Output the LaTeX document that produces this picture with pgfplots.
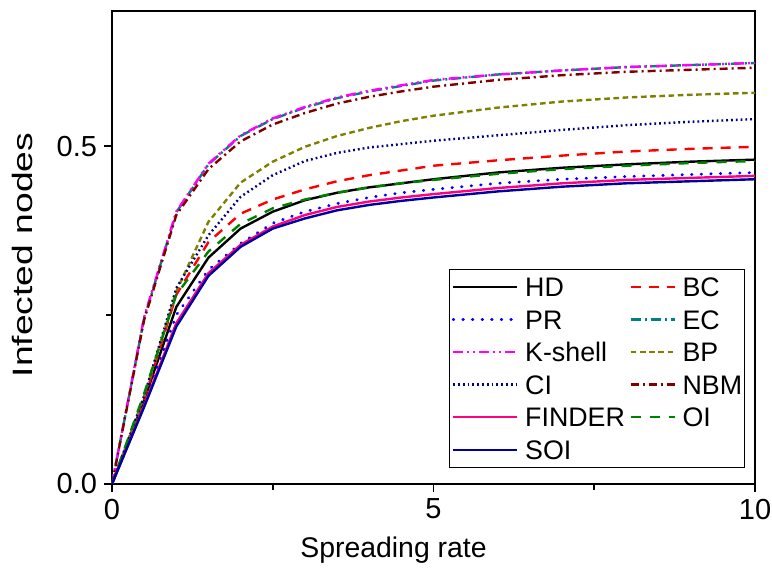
\documentclass[border=0pt]{standalone}
\usepackage{graphicx}
\usepackage{pgfplots}
\usepackage{pgfplotstable}
\pgfplotsset{compat=1.18}
\usepackage{fontspec}
\setmainfont{Liberation Sans}
\definecolor{cHD}{RGB}{0,0,0}
\definecolor{cBC}{RGB}{255,0,0}
\definecolor{cPR}{RGB}{0,0,255}
\definecolor{cEC}{RGB}{0,128,128}
\definecolor{cKS}{RGB}{255,0,255}
\definecolor{cBP}{RGB}{128,128,0}
\definecolor{cCI}{RGB}{0,0,128}
\definecolor{cNBM}{RGB}{128,0,0}
\definecolor{cFI}{RGB}{255,0,128}
\definecolor{cOI}{RGB}{0,128,0}
\definecolor{cSOI}{RGB}{0,0,160}
\pgfplotsset{
  longleg/.style={legend image code/.code={\draw[##1] (0bp,0bp) -- (32bp,0bp);}},
  shortleg/.style={legend image code/.code={\draw[##1] (0bp,0bp) -- (22bp,0bp);}},
}
\pgfplotstableread{
x    HD   BC   PR   EC   KS   BP   CI   NBM  FI   OI   SOI
0    0    0    0    0    0    0    0    0    0    0    0
0.5  .124 .125 .118 .245 .247 .130 .130 .243 .116 .134 .114
1    .262 .280 .250 .402 .403 .285 .290 .398 .238 .280 .233
1.5  .335 .358 .317 .473 .474 .388 .368 .466 .312 .344 .308
2    .378 .400 .356 .515 .516 .446 .425 .507 .354 .385 .351
2.5  .403 .421 .386 .540 .541 .477 .457 .532 .381 .408 .378
3    .420 .436 .403 .557 .558 .499 .478 .549 .398 .421 .393
3.5  .431 .448 .415 .571 .572 .515 .490 .563 .410 .431 .405
4    .439 .457 .424 .581 .582 .527 .498 .573 .418 .439 .413
4.5  .445 .464 .431 .589 .590 .537 .503 .581 .424 .445 .419
5    .451 .471 .436 .597 .598 .545 .508 .588 .429 .450 .424
6    .461 .479 .445 .606 .606 .557 .516 .598 .438 .459 .433
7    .468 .486 .451 .612 .612 .566 .524 .605 .445 .466 .440
8    .473 .492 .455 .617 .617 .572 .531 .610 .450 .471 .445
9    .477 .496 .458 .620 .620 .576 .536 .613 .453 .475 .448
10   .480 .499 .461 .623 .623 .579 .540 .616 .456 .478 .451
}\datatable
\begin{document}
\begin{tikzpicture}
\begin{axis}[
  scale only axis,
  width=321.5bp, height=236.5bp,
  xmin=0, xmax=10, ymin=0, ymax=0.7,
  xtick={0,5,10}, ytick={0,0.5},
  minor xtick={2.5,7.5}, minor ytick={0.25},
  tick align=outside,
  xtick pos=left, ytick pos=left,
  major tick length=4bp, minor tick length=3bp,
  every tick/.style={black, line width=0.8bp},
  axis line style={line width=0.9bp},
  /pgf/number format/assume math mode=true,
  yticklabel style={/pgf/number format/.cd, fixed, fixed zerofill, precision=1},
  ticklabel style={font=\fontsize{14.5bp}{16bp}\selectfont},
  xlabel={Spreading rate},
  ylabel={\scalebox{1.33}[1]{Infected nodes}},
  xlabel style={font=\fontsize{14.2bp}{16bp}\selectfont, at={(axis description cs:0.5,0)}, anchor=base, inner sep=0bp, xshift=-20bp, yshift=-37bp},
  ylabel style={font=\fontsize{14bp}{16bp}\selectfont, at={(axis description cs:0,0.5)}, anchor=south, inner sep=0bp, yshift=39.5bp, xshift=-3.75bp},
  legend columns=2,
  legend cell align=left,
  legend style={at={(1,0)}, anchor=south east, xshift=-5bp, yshift=8bp,
    font=\fontsize{13.4bp}{15bp}\selectfont, draw=black, line width=0.5bp,
    inner xsep=1.2bp, inner ysep=4bp, row sep=6.7bp, column sep=0bp,
    nodes={inner sep=0bp, text height=9.6bp, text depth=0bp},
    /tikz/every odd column/.style={column sep=3.3bp},
    /tikz/every even column/.style={column sep=2.3bp}},
  longleg,
  every axis plot/.append style={line width=1.2bp, no markers},
]
\addplot[cHD] table[x=x,y=HD] {\datatable};
\addlegendentry{HD}
\addplot[cBC, dash pattern=on 5bp off 4bp, shortleg] table[x=x,y=BC] {\datatable};
\addlegendentry{BC}
\addplot[cPR, line cap=round, dash pattern=on 0.3bp off 4.5bp, line width=1.4bp] table[x=x,y=PR] {\datatable};
\addlegendentry{PR}
\addplot[cEC, dash pattern=on 5bp off 2bp on 1bp off 2bp, shortleg] table[x=x,y=EC] {\datatable};
\addlegendentry{EC}
\addplot[cKS, dash pattern=on 5bp off 2bp on 1bp off 2bp on 1bp off 2bp] table[x=x,y=KS] {\datatable};
\addlegendentry{K-shell}
\addplot[cBP, dash pattern=on 2.8bp off 1.8bp, shortleg] table[x=x,y=BP] {\datatable};
\addlegendentry{BP}
\addplot[cCI, dash pattern=on 0.9bp off 1.5bp] table[x=x,y=CI] {\datatable};
\addlegendentry{CI}
\addplot[cNBM, dash pattern=on 4bp off 2bp on 1bp off 2bp, shortleg] table[x=x,y=NBM] {\datatable};
\addlegendentry{NBM}
\addplot[cFI] table[x=x,y=FI] {\datatable};
\addlegendentry{FINDER}
\addplot[cOI, dash pattern=on 5bp off 4.5bp, shortleg] table[x=x,y=OI] {\datatable};
\addlegendentry{OI}
\addplot[cSOI] table[x=x,y=SOI] {\datatable};
\addlegendentry{SOI}
\end{axis}
\pgfresetboundingbox
\path ([shift={(-56bp,-42bp)}]current axis.south west) rectangle ([shift={(8.5bp,5.5bp)}]current axis.north east);
\end{tikzpicture}
\end{document}
